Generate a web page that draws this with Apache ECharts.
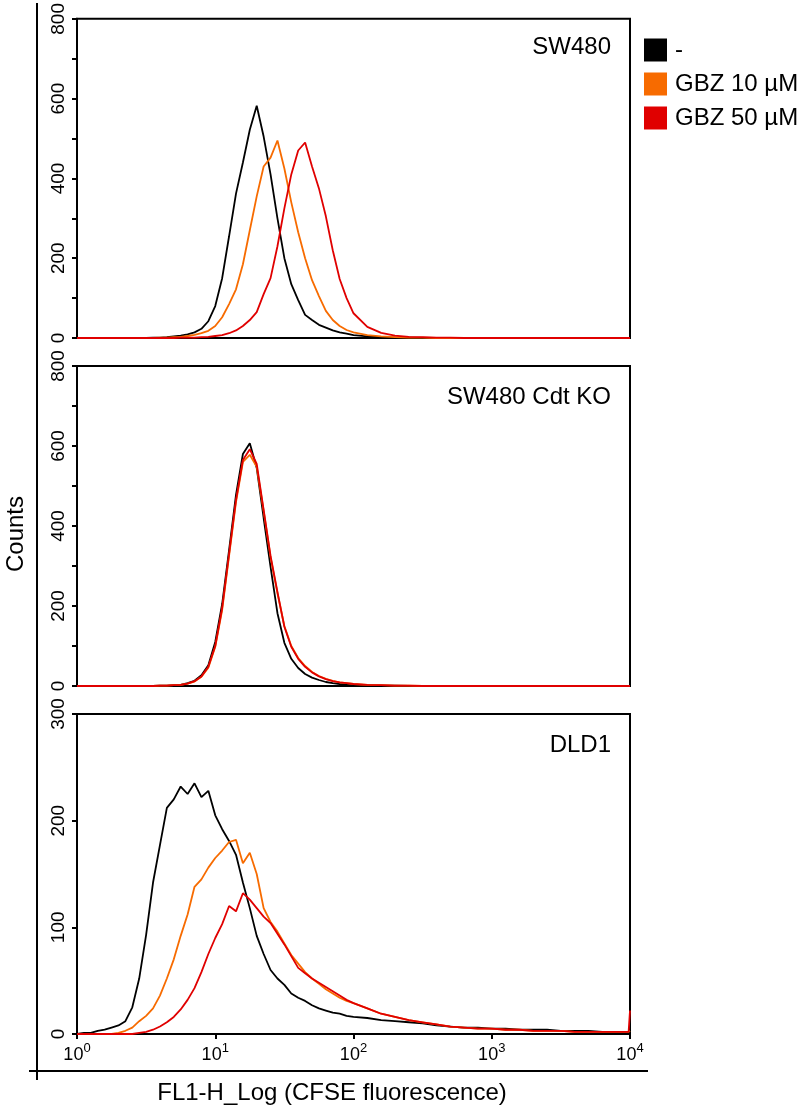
<!DOCTYPE html>
<html>
<head>
<meta charset="utf-8">
<script src="https://cdn.jsdelivr.net/npm/echarts@6/dist/echarts.min.js"></script>
<style>
html,body{margin:0;padding:0;background:#fff;}
#chart{width:803px;height:1111px;}
</style>
</head>
<body>
<div id="chart"></div>
<script>
// FL1-H channel positions (fluorescence, log scale)
const fluorescence = [1, 1.122, 1.259, 1.413, 1.585, 1.778, 1.995, 2.239, 2.512, 2.818,
  3.162, 3.548, 3.981, 4.467, 5.012, 5.623, 6.310, 7.079, 7.943, 8.913,
  10, 11.22, 12.59, 14.13, 15.85, 17.78, 19.95, 22.39, 25.12, 28.18,
  31.62, 35.48, 39.81, 44.67, 50.12, 56.23, 63.10, 70.79, 79.43, 89.13,
  100, 125.9, 158.5, 199.5, 251.2, 316.2, 398.1, 501.2, 631.0, 794.3,
  1000, 1259, 1585, 1995, 2512, 3162, 3981, 5012, 6310, 7943, 9772, 10000];

const seriesNames = ['-', 'GBZ 10 \u00b5M', 'GBZ 50 \u00b5M'];
const panelTitles = ['SW480', 'SW480 Cdt KO', 'DLD1'];
const yMax = [800, 800, 300];
const xTickExponents = [0, 1, 2, 3, 4];

// Panel 1: SW480
const sw480_ctrl = [0,0,0,0,0,0,0,0,0,0,0,
  1,1,2,4,6,9,14,23,42,80, 150,255,362,440,522,582,505,410,300,200, 135,95,58,45,33,26,19,14,11,7,
  4,2,1,1,0,0,0,0,0,0,0,0,0,0,0,0,0,0,0, 0,0];
const sw480_gbz10 = [0,0,0,0,0,0,0,0,0,0,0,
  0,1,1,2,3,5,8,12,18,30, 52,85,122,185,270,355,430,452,495,425, 340,265,200,145,105,68,45,30,20,14,
  7,4,2,1,1,0,0,0,0,0,0,0,0,0,0,0,0,0,0, 0,0];
const sw480_gbz50 = [0,0,0,0,0,0,0,0,0,0,0,
  0,0,0,0,1,1,1,2,3,5, 7,12,19,30,45,65,110,150,230,325, 410,470,490,430,375,305,220,148,100,62,
  28,13,6,3,2,1,1,0,0,0,0,0,0,0,0,0,0,0,0, 0,0];

// Panel 2: SW480 Cdt KO
const ko_ctrl = [0,0,0,0,0,0,0,0,0,0,0,
  0,1,1,2,3,7,13,27,52,110, 205,340,478,580,607,545,420,298,182,108, 68,45,30,21,15,10,7,5,4,3,
  2,1,1,0,0,0,0,0,0,0,0,0,0,0,0,0,0,0,0, 0,0];
const ko_gbz10 = [0,0,0,0,0,0,0,0,0,0,0,
  0,1,1,2,3,6,11,23,46,98, 190,325,460,560,578,548,438,322,232,150, 100,70,50,35,25,18,13,9,7,5,
  3,2,1,1,0,0,0,0,0,0,0,0,0,0,0,0,0,0,0, 0,0];
const ko_gbz50 = [0,0,0,0,0,0,0,0,0,0,0,
  0,1,1,2,3,6,12,24,48,100, 195,330,465,565,592,555,440,325,235,148, 98,68,48,34,24,17,12,9,7,5,
  3,2,1,1,0,0,0,0,0,0,0,0,0,0,0,0,0,0,0, 0,0];

// Panel 3: DLD1
const dld1_ctrl = [0,1,1,3,4,6,8,12,25,52,93,
  142,177,212,220,232,225,235,222,228,205, 192,181,168,142,118,92,75,60,52,46, 38,34,31,27,24,22,20,19,17,16,
  15,13,12,11,10,8,7,6,6,5,5,4,4,4,3,3,3,2,2, 2,3];
const dld1_gbz10 = [0,0,0,0,0,0,1,3,6,12,17,
  24,36,52,70,92,112,138,145,156,165, 172,180,182,160,170,150,118,105,96,85, 74,66,58,52,47,42,38,34,31,29,
  24,19,16,13,11,9,7,6,5,5,4,4,3,3,3,2,2,2,2, 2,3];
const dld1_gbz50 = [0,0,0,0,0,0,0,0,0,1,2,
  4,7,11,16,23,32,43,58,75,90, 103,120,115,132,126,118,110,104,94,84, 73,62,57,52,48,44,40,36,32,29,
  24,19,16,13,11,9,7,6,5,5,4,4,3,3,3,2,2,2,2, 2,22];

const panelData = [
  [sw480_ctrl, sw480_gbz10, sw480_gbz50],
  [ko_ctrl, ko_gbz10, ko_gbz50],
  [dld1_ctrl, dld1_gbz10, dld1_gbz50]
];
const colors = ['#000000', '#F76B00', '#E00000'];
const FONT = "'Liberation Sans', Arial, Helvetica, sans-serif";

const chart = echarts.init(document.getElementById('chart'), null, {renderer: 'canvas'});

const tops = [18, 366, 714];
const grids = [], xAxes = [], yAxes = [], series = [], graphics = [];

tops.forEach((t, p) => {
  grids.push({left: 77, top: t, width: 553, height: 320, show: true,
    borderColor: '#000', borderWidth: 2, backgroundColor: 'transparent'});
  const isBottom = p === 2;
  xAxes.push({
    type: 'log', logBase: 10, min: 1, max: 10000, gridIndex: p,
    axisLine: {show: true, onZero: false, lineStyle: {color: '#000', width: 2}},
    axisTick: {show: isBottom, length: 5, lineStyle: {color: '#000', width: 2}},
    minorTick: {show: false},
    splitLine: {show: false},
    axisLabel: {
      show: isBottom, margin: 8,
      formatter: function (v) {
        const e = Math.round(Math.log10(v));
        return xTickExponents.indexOf(e) >= 0 ? '{b|10}{s|' + e + '}' : '';
      },
      rich: {
        b: {fontFamily: FONT, fontSize: 18, color: '#000', lineHeight: 22, verticalAlign: 'bottom'},
        s: {fontFamily: FONT, fontSize: 13, color: '#000', lineHeight: 22, verticalAlign: 'top', padding: [0, 0, 8, 0]}
      }
    }
  });
  const step = yMax[p] === 800 ? 200 : 100;
  yAxes.push({
    type: 'value', min: 0, max: yMax[p], interval: 100, gridIndex: p,
    axisLine: {show: true, lineStyle: {color: '#000', width: 2}},
    axisTick: {show: true, length: 5, lineStyle: {color: '#000', width: 2}},
    splitLine: {show: false},
    axisLabel: {
      rotate: 90, margin: 9, color: '#000', fontFamily: FONT, fontSize: 19,
      formatter: function (v) { return v % step === 0 ? String(v) : ''; }
    }
  });
  panelData[p].forEach((vals, k) => {
    series.push({
      name: seriesNames[k], type: 'line', xAxisIndex: p, yAxisIndex: p,
      data: fluorescence.map((x, i) => [x, vals[i]]),
      showSymbol: false, symbol: 'none', smooth: false,
      lineStyle: {color: colors[k], width: 1.8},
      itemStyle: {color: colors[k]},
      z: 2 + k, silent: true
    });
  });
});

const titleY = [47, 397, 745];
panelTitles.forEach((txt, p) => {
  graphics.push({type: 'text', x: 611, y: titleY[p], z: 10,
    style: {text: txt, font: '24px ' + FONT, fill: '#000', textAlign: 'right', textVerticalAlign: 'middle'}});
});
graphics.push({type: 'text', x: 16, y: 534, rotation: Math.PI / 2, z: 10,
  style: {text: 'Counts', font: '24px ' + FONT, fill: '#000', textAlign: 'center', textVerticalAlign: 'middle'}});
graphics.push({type: 'text', x: 332, y: 1093, z: 10,
  style: {text: 'FL1-H_Log (CFSE fluorescence)', font: '24px ' + FONT, fill: '#000', textAlign: 'center', textVerticalAlign: 'middle'}});
graphics.push({type: 'line', z: 10, shape: {x1: 37, y1: 3, x2: 37, y2: 1080}, style: {stroke: '#000', lineWidth: 2}});
graphics.push({type: 'line', z: 10, shape: {x1: 29, y1: 1071, x2: 648, y2: 1071}, style: {stroke: '#000', lineWidth: 2}});

chart.setOption({
  animation: false,
  backgroundColor: '#fff',
  grid: grids,
  xAxis: xAxes,
  yAxis: yAxes,
  legend: {
    data: seriesNames, orient: 'vertical', left: 644, top: 38,
    icon: 'rect', itemWidth: 23, itemHeight: 23, itemGap: 10,
    textStyle: {fontFamily: FONT, fontSize: 24, color: '#000', padding: [0, 0, 0, 3]},
    selectedMode: false, padding: 0
  },
  series: series,
  graphic: graphics
});
</script>
</body>
</html>
